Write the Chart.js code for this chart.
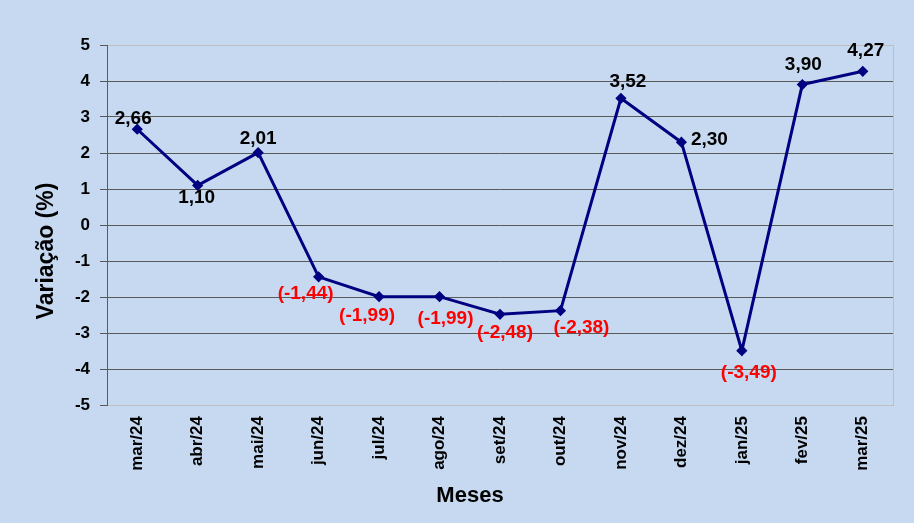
<!DOCTYPE html>
<html>
<head>
<meta charset="utf-8">
<script src="https://cdn.jsdelivr.net/npm/chart.js@4/dist/chart.umd.min.js"></script>
<style>
  html, body { margin: 0; padding: 0; background: #c6d9f1; }
  #wrap { width: 914px; height: 523px; position: relative; }
</style>
</head>
<body>
<div id="wrap"><canvas id="c" width="914" height="523"></canvas></div>
<script>
const categories = ["mar/24","abr/24","mai/24","jun/24","jul/24","ago/24","set/24","out/24","nov/24","dez/24","jan/25","fev/25","mar/25"];
const values = [2.66, 1.10, 2.01, -1.44, -1.99, -1.99, -2.48, -2.38, 3.52, 2.30, -3.49, 3.90, 4.27];
const yTicks = [5, 4, 3, 2, 1, 0, -1, -2, -3, -4, -5];
const yTitle = "Variação (%)";
const xTitle = "Meses";
// label placement relative to each point (px)
const labelOffsets = [[-4,-10],[-1,12],[0,-14],[-13,17],[-12,19],[6,22],[5,18],[21,17],[7,-17],[28,-2],[7,22],[1,-20],[3,-21]];

function fmt(v) {
  const s = Math.abs(v).toFixed(2).replace('.', ',');
  return v < 0 ? '(-' + s + ')' : s;
}

const FONT = '"Liberation Sans", Arial, sans-serif';

const labelPlugin = {
  id: 'labels',
  afterDatasetsDraw(chart) {
    const ctx = chart.ctx;
    const meta = chart.getDatasetMeta(0);
    ctx.save();
    ctx.font = 'bold 19px ' + FONT;
    ctx.textAlign = 'center';
    ctx.textBaseline = 'middle';
    meta.data.forEach((pt, i) => {
      const v = values[i];
      ctx.fillStyle = v < 0 ? '#ff0000' : '#000000';
      ctx.fillText(fmt(v), pt.x + labelOffsets[i][0], pt.y + labelOffsets[i][1]);
    });
    ctx.restore();
  },
  afterDraw(chart) {
    const ctx = chart.ctx;
    ctx.save();
    ctx.fillStyle = '#000';
    ctx.font = 'bold 23px ' + FONT;
    ctx.textAlign = 'center';
    ctx.textBaseline = 'middle';
    ctx.translate(47, 251);
    ctx.rotate(-Math.PI / 2);
    ctx.fillText(yTitle, 0, 0);
    ctx.restore();
    ctx.save();
    ctx.fillStyle = '#000';
    ctx.font = 'bold 22px ' + FONT;
    ctx.textAlign = 'center';
    ctx.textBaseline = 'middle';
    ctx.fillText(xTitle, 470, 496);
    ctx.restore();
  }
};

new Chart(document.getElementById('c'), {
  type: 'line',
  data: {
    labels: categories,
    datasets: [{
      data: values,
      borderColor: '#000080',
      backgroundColor: '#000080',
      borderWidth: 3,
      pointStyle: 'rectRot',
      pointRadius: 3.5,
      pointHoverRadius: 3.5,
      tension: 0,
      fill: false
    }]
  },
  options: {
    responsive: false,
    animation: false,
    events: [],
    layout: { padding: { left: 0, right: 21, top: 45, bottom: 0 } },
    plugins: { legend: { display: false }, tooltip: { enabled: false }, title: { display: false } },
    scales: {
      x: {
        type: 'category',
        offset: true,
        grid: { display: false },
        border: { display: true, color: '#bfbfbf', width: 1 },
        ticks: {
          minRotation: 90, maxRotation: 90, padding: 3, autoSkip: false,
          color: '#000', font: { family: FONT, size: 17, weight: 'bold' }
        },
        afterFit(s) { s.height = 118; }
      },
      y: {
        min: -5, max: 5,
        afterBuildTicks(s) { s.ticks = yTicks.map(v => ({ value: v })); },
        grid: {
          color: (c) => (c.tick && (c.tick.value === 5 || c.tick.value === -5)) ? '#bfbfbf' : '#5a5a5a',
          tickColor: '#5a5a5a',
          tickLength: 7,
          lineWidth: 1
        },
        border: { display: true, color: '#5a5a5a', width: 1 },
        ticks: {
          padding: 10, color: '#000',
          font: { family: FONT, size: 17, weight: 'bold' },
          callback: (v) => String(v)
        },
        afterFit(s) { s.width = 107; }
      },
      y2: {
        position: 'right',
        min: -5, max: 5,
        grid: { display: false },
        border: { display: true, color: '#bfbfbf', width: 1 },
        ticks: { display: false },
        afterFit(s) { s.width = 0; }
      }
    }
  },
  plugins: [labelPlugin]
});
</script>
</body>
</html>
